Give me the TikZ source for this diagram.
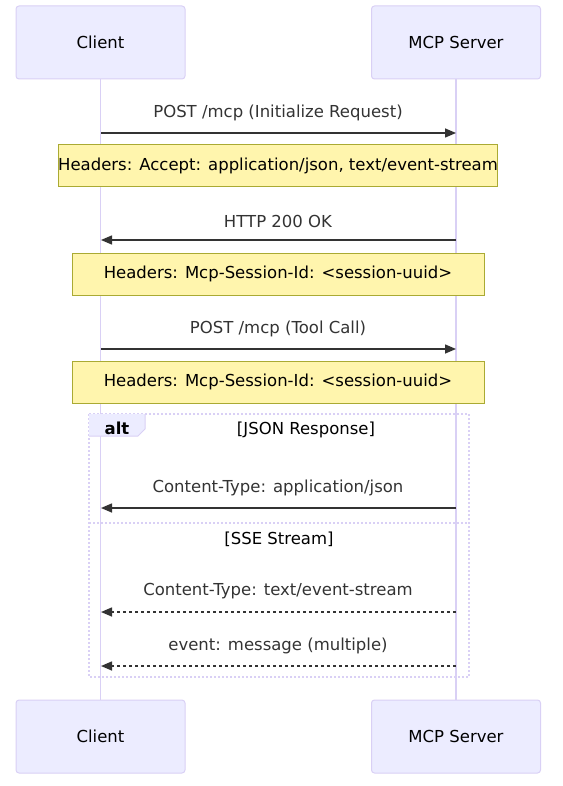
\documentclass[tikz,border=0pt]{standalone}
\usepackage{fontspec}
\setmainfont{DejaVu Sans}
\usetikzlibrary{arrows.meta}
\definecolor{actfill}{HTML}{ECECFF}
\definecolor{actline}{HTML}{D9D0F5}
\definecolor{notefill}{HTML}{FFF5AD}
\definecolor{noteline}{HTML}{AAAA33}
\definecolor{ink}{HTML}{333333}
\newcommand{\fs}{\fontsize{16.5}{19}\selectfont}
\tikzset{
  actor/.style={draw=actline, fill=actfill, line width=1pt, rounded corners=3pt, minimum width=169pt, minimum height=73pt, inner sep=0pt, font=\fs, text=black},
  note/.style={draw=noteline, fill=notefill, line width=1pt, minimum width=412pt, minimum height=42pt, inner sep=0pt, font=\fs, text=black},
  msgtext/.style={font=\fs, text=ink, inner sep=0pt},
  msg/.style={draw=ink, line width=1.5pt, -{Triangle[length=11pt,width=9pt]}},
  rmsg/.style={msg, dash pattern=on 3pt off 3pt},
  life/.style={draw=actline, line width=1.5pt},
  frame/.style={draw=actline, line width=1.8pt, dash pattern=on 2pt off 2pt},
}
\begin{document}
\begin{tikzpicture}[x=1pt,y=-1pt]
\useasboundingbox (0,0) rectangle (562,786);
% actors
\node[actor] (ct) at (100.5,42.5) {Client};
\node[actor] (st) at (456,42.5) {MCP Server};
\node[actor] (cb) at (100.5,736.5) {Client};
\node[actor] (sb) at (456,736.5) {MCP Server};
\draw[life] (ct.south) -- (cb.north);
\draw[life] (st.south) -- (sb.north);
% lifeline points
\coordinate (c1) at (101,133); \coordinate (s1) at (456,133);
\coordinate (c2) at (101,240); \coordinate (s2) at (456,240);
\coordinate (c3) at (101,349); \coordinate (s3) at (456,349);
\coordinate (c4) at (101,508); \coordinate (s4) at (456,508);
\coordinate (c5) at (101,612); \coordinate (s5) at (456,612);
\coordinate (c6) at (101,666); \coordinate (s6) at (456,666);
% messages
\draw[msg] (c1) -- (s1);
\node[msgtext] (t1) at (278,113) {POST /mcp (Initialize Request)};
\node[note] (n1) at (278,166) {Headers: Accept: application/json, text/event-stream};
\draw[msg] (s2) -- (c2);
\node[msgtext] (t2) at (278,221) {HTTP 200 OK};
\node[note] (n2) at (278,274) {Headers: Mcp-Session-Id: <session-uuid>};
\draw[msg] (c3) -- (s3);
\node[msgtext] (t3) at (278,329) {POST /mcp (Tool Call)};
\node[note] (n3) at (278,382) {Headers: Mcp-Session-Id: <session-uuid>};
% alt frame
\draw[frame] (89,414) rectangle (469,677);
\draw[frame] (89,523) -- (469,523);
\fill[actfill] (89,414) -- (145,414) -- (145,429) -- (138,436) -- (89,436) -- cycle;
\draw[draw=actline, line width=1pt] (145,414) -- (145,429) -- (138,436) -- (89,436);
\node[msgtext, font=\bfseries\fs, text=black] (alt) at (117,428) {alt};
\node[msgtext, text=black] (g1) at (306,430) {[JSON Response]};
\node[msgtext, text=black] (g2) at (279,539) {[SSE Stream]};
\draw[msg] (s4) -- (c4);
\node[msgtext] (t4) at (278,488) {Content-Type: application/json};
\draw[rmsg] (s5) -- (c5);
\node[msgtext] (t5) at (278,591) {Content-Type: text/event-stream};
\draw[rmsg] (s6) -- (c6);
\node[msgtext] (t6) at (278,646) {event: message (multiple)};
\end{tikzpicture}
\end{document}
